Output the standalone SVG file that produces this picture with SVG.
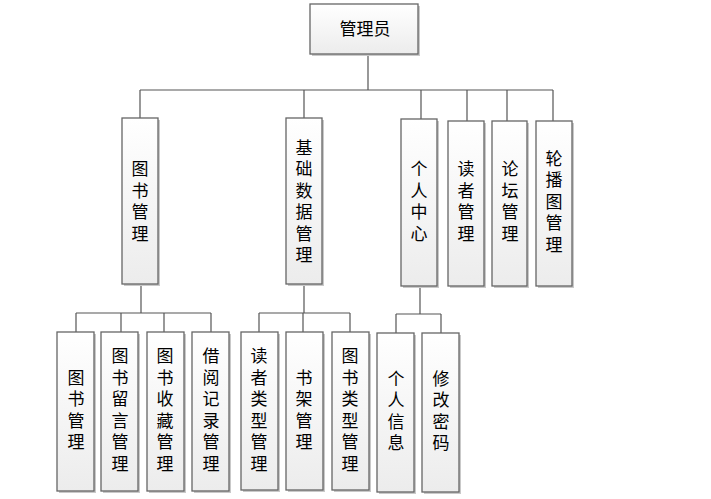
<svg xmlns="http://www.w3.org/2000/svg" width="711" height="499" viewBox="0 0 711 499">
<defs>
<linearGradient id="g" x1="0" y1="0" x2="0" y2="1">
<stop offset="0" stop-color="#ffffff"/>
<stop offset="1" stop-color="#ececec"/>
</linearGradient>
<style>
.sh{fill:#c9c9c9;}
.bx{fill:url(#g);stroke:#666;stroke-width:1.3;}
.t{font-family:"Noto Sans CJK SC","Noto Sans",sans-serif;font-size:17px;fill:#000;text-anchor:middle;}
.v{writing-mode:vertical-rl;letter-spacing:4.5px;}
.ln{stroke:#555;stroke-width:1.2;fill:none;}
</style>
</defs>
<rect width="711" height="499" fill="#fff"/>
<g id="connectors">
<path class="ln" d="M368 54V90M140 90H553M140 90V118M304 90V118M421 90V119M467 90V121M507 90V121M553 90V121"/>
<path class="ln" d="M141 284V313M76 313H211M76 313V332M121 313V332M164 313V332M211 313V332"/>
<path class="ln" d="M304 284V313M259 313H350M259 313V332M303 313V332M350 313V332"/>
<path class="ln" d="M420 286V314M396 314H441M396 314V333M441 314V333"/>
</g>
<g id="n0"><rect class="sh" x="312" y="6" width="108" height="50"/><rect class="bx" x="310" y="4" width="108" height="50"/><text class="t" x="365" y="35">管理员</text></g>
<g id="n1"><rect class="sh" x="124" y="120" width="36" height="166"/><rect class="bx" x="122" y="118" width="36" height="166"/><text class="t v" x="140" y="203.5">图书管理</text></g>
<g id="n2"><rect class="sh" x="288" y="120" width="36" height="166"/><rect class="bx" x="286" y="118" width="36" height="166"/><text class="t v" x="304" y="203.5">基础数据管理</text></g>
<g id="n3"><rect class="sh" x="403" y="121" width="36" height="167"/><rect class="bx" x="401" y="119" width="36" height="167"/><text class="t v" x="419" y="203.5">个人中心</text></g>
<g id="n4"><rect class="sh" x="450" y="123" width="36" height="165"/><rect class="bx" x="448" y="121" width="36" height="165"/><text class="t v" x="466" y="203.5">读者管理</text></g>
<g id="n5"><rect class="sh" x="494" y="123" width="35" height="165"/><rect class="bx" x="492" y="121" width="35" height="165"/><text class="t v" x="510" y="203.5">论坛管理</text></g>
<g id="n6"><rect class="sh" x="538" y="123" width="36" height="165"/><rect class="bx" x="536" y="121" width="36" height="165"/><text class="t v" x="554" y="203.5">轮播图管理</text></g>
<g id="n7"><rect class="sh" x="59" y="334" width="37" height="159"/><rect class="bx" x="57" y="332" width="37" height="159"/><text class="t v" x="76" y="412">图书管理</text></g>
<g id="n8"><rect class="sh" x="103" y="334" width="37" height="159"/><rect class="bx" x="101" y="332" width="37" height="159"/><text class="t v" x="120" y="412">图书留言管理</text></g>
<g id="n9"><rect class="sh" x="149" y="334" width="37" height="159"/><rect class="bx" x="147" y="332" width="37" height="159"/><text class="t v" x="165" y="412">图书收藏管理</text></g>
<g id="n10"><rect class="sh" x="194" y="334" width="37" height="159"/><rect class="bx" x="192" y="332" width="37" height="159"/><text class="t v" x="211" y="412">借阅记录管理</text></g>
<g id="n11"><rect class="sh" x="243" y="334" width="37" height="158"/><rect class="bx" x="241" y="332" width="37" height="158"/><text class="t v" x="259" y="412">读者类型管理</text></g>
<g id="n12"><rect class="sh" x="288" y="334" width="37" height="158"/><rect class="bx" x="286" y="332" width="37" height="158"/><text class="t v" x="304" y="412">书架管理</text></g>
<g id="n13"><rect class="sh" x="334" y="334" width="37" height="158"/><rect class="bx" x="332" y="332" width="37" height="158"/><text class="t v" x="350" y="412">图书类型管理</text></g>
<g id="n14"><rect class="sh" x="379" y="335" width="37" height="159"/><rect class="bx" x="377" y="333" width="37" height="159"/><text class="t v" x="396" y="413">个人信息</text></g>
<g id="n15"><rect class="sh" x="424" y="335" width="37" height="159"/><rect class="bx" x="422" y="333" width="37" height="159"/><text class="t v" x="441" y="413">修改密码</text></g>
</svg>
